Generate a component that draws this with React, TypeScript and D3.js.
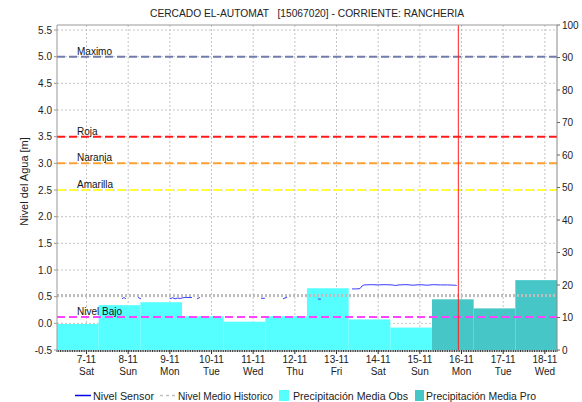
import React from "react";
import * as d3 from "d3";

const title = "CERCADO EL-AUTOMAT   [15067020] - CORRIENTE: RANCHERIA";
const yTitle = "Nivel del Agua [m]";

const dayLabels = ["7-11", "8-11", "9-11", "10-11", "11-11", "12-11", "13-11", "14-11", "15-11", "16-11", "17-11", "18-11"];
const weekdayLabels = ["Sat", "Sun", "Mon", "Tue", "Wed", "Thu", "Fri", "Sat", "Sun", "Mon", "Tue", "Wed"];

// daily rainfall, each bar runs 07:00 -> 07:00 of the next day
const precipObsDays = ["6-11", "7-11", "8-11", "9-11", "10-11", "11-11", "12-11", "13-11", "14-11"];
const precipObs = [8.0, 13.8, 14.7, 10.4, 8.7, 10.4, 19.0, 9.4, 6.9];
const precipProDays = ["15-11", "16-11", "17-11"];
const precipPro = [15.6, 12.8, 21.5];

const thresholdNames = ["Maximo", "Roja", "Naranja", "Amarilla", "Nivel Bajo"];
const thresholdValues = [5.0, 3.5, 3.0, 2.5, 0.12];

const historicTimes = ["6-11 07:00", "7-11 07:00", "8-11 07:00", "9-11 07:00", "10-11 07:00", "11-11 07:00", "12-11 07:00", "13-11 07:00", "14-11 07:00", "15-11 07:00", "16-11 07:00", "17-11 07:00", "18-11 07:00"];
const historicValues = [0.52, 0.52, 0.52, 0.52, 0.52, 0.52, 0.52, 0.52, 0.52, 0.52, 0.52, 0.52, 0.52];

// null = no reading (gap in the line)
const sensorTimes = [
  "7-11 20:30", "7-11 21:30", "7-11 22:40", "7-11 23:30",
  "8-11 05:40", "8-11 07:20", "8-11 08:00",
  "9-11 00:05", "9-11 01:30", "9-11 03:00", "9-11 04:30", "9-11 06:00", "9-11 07:30", "9-11 09:00", "9-11 12:45", "9-11 13:30",
  "9-11 15:40", "9-11 17:20", "9-11 18:00",
  "11-11 04:30", "11-11 06:45", "11-11 07:30",
  "11-11 17:10", "11-11 19:30", "11-11 20:00",
  "12-11 13:20", "12-11 15:00", "12-11 16:00",
  "13-11 08:55", "13-11 11:00", "13-11 13:30", "13-11 14:40", "13-11 16:00", "13-11 20:00",
  "14-11 00:00", "14-11 04:00", "14-11 08:00", "14-11 10:00", "14-11 12:00", "14-11 16:00", "14-11 20:00",
  "15-11 00:00", "15-11 04:00", "15-11 08:00", "15-11 12:00", "15-11 16:00", "15-11 20:00", "15-11 21:15",
];
const sensorValues = [
  0.46, 0.485, 0.46, null,
  0.485, 0.46, null,
  0.46, 0.48, 0.46, 0.475, 0.465, 0.48, 0.485, 0.485, null,
  0.46, 0.485, null,
  0.47, 0.47, null,
  0.46, 0.49, null,
  0.455, 0.455, null,
  0.645, 0.645, 0.65, 0.70, 0.72, 0.725,
  0.72, 0.725, 0.72, 0.71, 0.72, 0.725, 0.715,
  0.725, 0.715, 0.725, 0.72, 0.72, 0.715, 0.71,
];

const nowTime = "15-11 22:10";

const W = 582;
const H = 402;
const plot = { left: 57, right: 557, top: 25, bottom: 350 };
const font = "'Liberation Sans', Arial, sans-serif";

const thresholdColors = ["#6f7eab", "#ff1a1a", "#ffa030", "#ffff33", "#ff44ff"];
const obsColor = "#55ffff";
const proColor = "#46c6c6";

const parse = (s: string) => {
  const [d, t = "00:00"] = s.split(" ");
  const [day, mon] = d.split("-").map(Number);
  const [h, m] = t.split(":").map(Number);
  return new Date(2015, mon - 1, day, h, m);
};

const App = () => {
  const x = d3.scaleTime()
    .domain([parse("6-11 07:00"), parse("18-11 07:00")])
    .range([plot.left, plot.right]);
  const yL = d3.scaleLinear().domain([-0.5, 5.594]).range([plot.bottom, plot.top]);
  const yR = d3.scaleLinear().domain([0, 100]).range([plot.bottom, plot.top]);

  const leftTicks = d3.range(-0.5, 5.51, 0.5);
  const rightTicks = yR.ticks(10);
  const dayTicks = dayLabels.map(d => parse(d));
  const hourTicks = x.ticks(d3.timeHour.every(1) as any);

  const bar = (day: string, v: number) => {
    const t0 = parse(day + " 07:00");
    const t1 = d3.timeDay.offset(t0, 1);
    return { x: x(t0), w: x(t1) - x(t0), y: yR(v), h: yR(0) - yR(v) };
  };

  const sensor = sensorTimes.map((t, i) => ({ t: parse(t), v: sensorValues[i] }));
  const sensorLine = d3.line<{ t: Date; v: number | null }>()
    .defined(d => d.v != null)
    .x(d => x(d.t))
    .y(d => yL(d.v as number));

  const historic = historicTimes.map((t, i) => ({ t: parse(t), v: historicValues[i] }));
  const historicLine = d3.line<{ t: Date; v: number }>()
    .x(d => x(d.t))
    .y(d => yL(d.v));

  const nowX = x(parse(nowTime));

  return (
    <svg width={W} height={H} style={{ position: "absolute", left: 0, top: 0, background: "#fff" }} fontFamily={font}>
      <rect width={W} height={H} fill="#fff" />
      <text x={(plot.left + plot.right) / 2} y={17} textAnchor="middle" fontSize={11} fill="#222"
        style={{ whiteSpace: "pre" }} textLength={314} lengthAdjust="spacingAndGlyphs">{title}</text>

      {/* grid */}
      <g stroke="#c4c4c4" strokeDasharray="2,2" strokeWidth={1}>
        {leftTicks.map(v => (
          <line key={"h" + v} x1={plot.left} x2={plot.right} y1={yL(v)} y2={yL(v)} />
        ))}
        {dayTicks.map((d, i) => (
          <line key={"v" + i} x1={x(d)} x2={x(d)} y1={plot.top} y2={plot.bottom} />
        ))}
      </g>

      {/* rainfall */}
      {precipObsDays.map((d, i) => {
        const b = bar(d, precipObs[i]);
        return <rect key={"o" + i} x={b.x} y={b.y} width={b.w} height={b.h} fill={obsColor} />;
      })}
      {precipProDays.map((d, i) => {
        const b = bar(d, precipPro[i]);
        return <rect key={"p" + i} x={b.x} y={b.y} width={b.w} height={b.h} fill={proColor} />;
      })}

      {/* historic mean */}
      <path d={historicLine(historic) || ""} fill="none" stroke="#bdbdbd" strokeWidth={3} strokeDasharray="2,2" />

      {/* thresholds */}
      {thresholdNames.map((n, i) => (
        <g key={n}>
          <line x1={plot.left} x2={plot.right} y1={yL(thresholdValues[i])} y2={yL(thresholdValues[i])}
            stroke={thresholdColors[i]} strokeWidth={2} strokeDasharray="8,4" />
          <text x={77} y={yL(thresholdValues[i]) - 2} fontSize={10} fill="#111">{n}</text>
        </g>
      ))}

      {/* sensor */}
      <path d={sensorLine(sensor) || ""} fill="none" stroke="#3a3aff" strokeWidth={1} />

      {/* now */}
      <line x1={nowX} x2={nowX} y1={plot.top} y2={plot.bottom} stroke="#ff2020" strokeWidth={1} />

      {/* frame + axes */}
      <line x1={plot.left} x2={plot.right} y1={plot.top} y2={plot.top} stroke="#999" />
      <line x1={plot.left} x2={plot.left} y1={plot.top} y2={plot.bottom} stroke="#999" />
      <line x1={plot.right} x2={plot.right} y1={plot.top} y2={plot.bottom} stroke="#888" />
      <g stroke="#333">
        {hourTicks.map((t, i) => (
          <line key={"m" + i} x1={x(t)} x2={x(t)} y1={plot.bottom} y2={plot.bottom + 2} />
        ))}
      </g>

      {leftTicks.map(v => (
        <g key={"lt" + v}>
          <line x1={plot.left - 3} x2={plot.left} y1={yL(v)} y2={yL(v)} stroke="#999" />
          <text x={plot.left - 5} y={yL(v) + 3.5} textAnchor="end" fontSize={10} fill="#222">{v.toFixed(1)}</text>
        </g>
      ))}
      {rightTicks.map(v => (
        <g key={"rt" + v}>
          <line x1={plot.right} x2={plot.right + 3} y1={yR(v)} y2={yR(v)} stroke="#666" />
          <text x={plot.right + 5} y={yR(v) + 3.5} fontSize={10} fill="#222">{v}</text>
        </g>
      ))}
      {dayTicks.map((d, i) => (
        <g key={"dt" + i} fontSize={10} fill="#222" textAnchor="middle">
          <line x1={x(d)} x2={x(d)} y1={plot.bottom} y2={plot.bottom + 4} stroke="#333" />
          <text x={x(d)} y={363}>{dayLabels[i]}</text>
          <text x={x(d)} y={375}>{weekdayLabels[i]}</text>
        </g>
      ))}

      <text transform={`translate(28,${(plot.top + plot.bottom) / 2 - 6}) rotate(-90)`} textAnchor="middle" fontSize={11} fill="#222">{yTitle}</text>

      {/* legend */}
      <g fontSize={10.5} fill="#222">
        <line x1={75} x2={91} y1={395.5} y2={395.5} stroke="#0000ee" strokeWidth={1.5} />
        <text x={93} y={399.5} textLength={61} lengthAdjust="spacingAndGlyphs">Nivel Sensor</text>
        <line x1={160} x2={176} y1={395.5} y2={395.5} stroke="#c0c0c0" strokeWidth={1.5} strokeDasharray="3,3" />
        <text x={178} y={399.5} textLength={95} lengthAdjust="spacingAndGlyphs">Nivel Medio Historico</text>
        <rect x={279} y={390} width={10} height={11} fill={obsColor} />
        <text x={293} y={399.5} textLength={115} lengthAdjust="spacingAndGlyphs">Precipitación Media Obs</text>
        <rect x={415} y={390} width={9} height={11} fill={proColor} />
        <text x={426} y={399.5} textLength={110} lengthAdjust="spacingAndGlyphs">Precipitación Media Pro</text>
      </g>
    </svg>
  );
};

export default App;
